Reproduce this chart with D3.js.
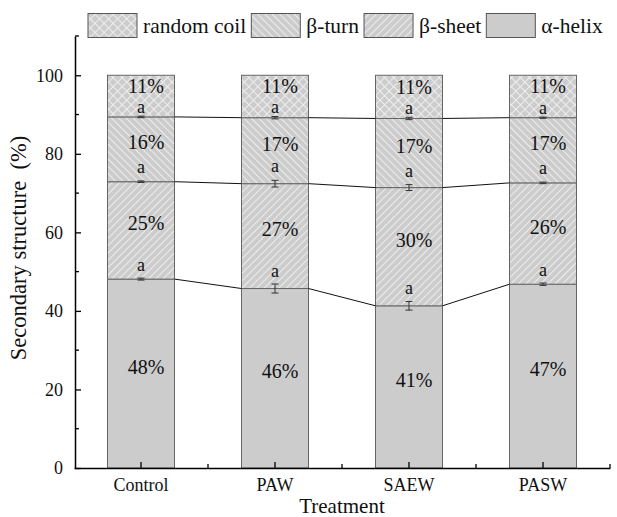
<!DOCTYPE html>
<html>
<head>
<meta charset="utf-8">
<script src="https://cdn.jsdelivr.net/npm/d3@7"></script>
<style>
  html, body { margin: 0; padding: 0; background: #fff; }
  svg { display: block; }
</style>
</head>
<body>
<svg id="chart" width="617" height="517"></svg>
<script>
// ---- data ----
const categories = ["Control", "PAW", "SAEW", "PASW"];
const seriesNames = ["random coil", "β-turn", "β-sheet", "α-helix"];
const alphaHelix = [48.1, 45.7, 41.3, 46.8];
const betaSheet  = [24.8, 26.7, 30.1, 25.8];
const betaTurn   = [16.5, 16.8, 17.6, 16.6];
const randomCoil = [10.6, 10.8, 11.0, 10.8];
const alphaErr = [0.25, 1.15, 1.1, 0.3];
const sheetErr = [0.2, 0.85, 0.75, 0.2];
const turnErr  = [0.2, 0.3, 0.3, 0.15];
const alphaLabels = ["48%", "46%", "41%", "47%"];
const sheetLabels = ["25%", "27%", "30%", "26%"];
const turnLabels  = ["16%", "17%", "17%", "17%"];
const coilLabels  = ["11%", "11%", "11%", "11%"];
const alphaSig = ["a", "a", "a", "a"];
const sheetSig = ["a", "a", "a", "a"];
const turnSig  = ["a", "a", "a", "a"];
const yMajorTicks = [0, 20, 40, 60, 80, 100];
const yMinorTicks = [10, 30, 50, 70, 90, 110];

const FONT = "'Liberation Serif', 'Times New Roman', serif";
const INK = "#111";

// ---- layout ----
const svg = d3.select("#chart");
const x = d3.scaleBand().domain(categories).range([74, 610]).paddingInner(0.5).paddingOuter(0.25);
const y = d3.scaleLinear().domain([0, 110]).range([468, 36]);

function txt(sel, size) {
  return sel.style("font-family", FONT).style("font-size", size + "px").style("fill", INK);
}

// ---- patterns ----
const defs = svg.append("defs");
const GRAY = "#cccccc";
function hatch(id, angle, size, cross) {
  const p = defs.append("pattern").attr("id", id).attr("patternUnits", "userSpaceOnUse")
    .attr("width", size).attr("height", size).attr("patternTransform", `rotate(${angle})`);
  p.append("rect").attr("width", size).attr("height", size).attr("fill", GRAY);
  p.append("line").attr("x1", 0.5).attr("y1", 0).attr("x2", 0.5).attr("y2", size)
    .attr("stroke", "#f2f2f2").attr("stroke-width", 0.9);
  if (cross) p.append("line").attr("x1", 0).attr("y1", 0.5).attr("x2", size).attr("y2", 0.5)
    .attr("stroke", "#f2f2f2").attr("stroke-width", 0.9);
}
hatch("pCoil", 45, 6.4, true);
hatch("pTurn", -45, 5.2, false);
hatch("pSheet", 45, 5.2, false);
const fills = ["url(#pCoil)", "url(#pTurn)", "url(#pSheet)", GRAY];

// ---- stacks ----
const layers = [
  { vals: alphaHelix, fill: GRAY, labels: alphaLabels, err: alphaErr, sig: alphaSig, dy: 0, sdy: -7.5 },
  { vals: betaSheet, fill: "url(#pSheet)", labels: sheetLabels, err: sheetErr, sig: sheetSig, dy: 0, sdy: -8 },
  { vals: betaTurn, fill: "url(#pTurn)", labels: turnLabels, err: turnErr, sig: turnSig, dy: 0, sdy: -3.5 },
  { vals: randomCoil, fill: "url(#pCoil)", labels: coilLabels, err: null, sig: null, dy: -3, sdy: 0 }
];
const cum = categories.map(() => 0);
layers.forEach(L => {
  L.y0 = cum.slice();
  L.y1 = L.vals.map((v, i) => (cum[i] += v));
});

const bw = x.bandwidth();
const gBars = svg.append("g");
layers.forEach(L => {
  gBars.selectAll(null).data(categories).enter().append("rect")
    .attr("x", c => x(c)).attr("width", bw)
    .attr("y", (c, i) => y(L.y1[i])).attr("height", (c, i) => y(L.y0[i]) - y(L.y1[i]))
    .attr("fill", L.fill).attr("stroke", "#666").attr("stroke-width", 1);
});

// connecting lines
layers.slice(0, 3).forEach(L => {
  for (let i = 0; i < categories.length - 1; i++) {
    svg.append("line")
      .attr("x1", x(categories[i]) + bw).attr("y1", y(L.y1[i]))
      .attr("x2", x(categories[i + 1])).attr("y2", y(L.y1[i + 1]))
      .attr("stroke", "#111").attr("stroke-width", 1);
  }
});

// error bars + significance letters
layers.forEach(L => {
  if (!L.err) return;
  categories.forEach((c, i) => {
    const cx = x(c) + bw / 2, top = L.y1[i], e = L.err[i];
    const g = svg.append("g").attr("stroke", "#333").attr("stroke-width", 1);
    g.append("line").attr("x1", cx).attr("x2", cx).attr("y1", y(top - e)).attr("y2", y(top + e));
    g.append("line").attr("x1", cx - 3.5).attr("x2", cx + 3.5).attr("y1", y(top - e)).attr("y2", y(top - e));
    g.append("line").attr("x1", cx - 3.5).attr("x2", cx + 3.5).attr("y1", y(top + e)).attr("y2", y(top + e));
    txt(svg.append("text").attr("x", cx).attr("y", y(top + e) + L.sdy)
      .attr("text-anchor", "middle"), 18).text(L.sig[i]);
  });
});

// percentage labels
layers.forEach(L => {
  categories.forEach((c, i) => {
    txt(svg.append("text").attr("x", x(c) + bw / 2 + 5).attr("y", y((L.y0[i] + L.y1[i]) / 2) + L.dy)
      .attr("text-anchor", "middle"), 20).text(L.labels[i]);
  });
});

// ---- axes ----
const xAxis = svg.append("g").attr("transform", "translate(0,468)")
  .call(d3.axisBottom(x).tickSizeInner(-6).tickSizeOuter(0).tickPadding(10));
txt(xAxis.selectAll(".tick text"), 18);
xAxis.select(".domain").attr("stroke-width", 1.5);
xAxis.selectAll(".tick line").attr("stroke-width", 1.3);
svg.append("g").selectAll("line").data(categories).enter().append("line")
  .attr("x1", c => x(c) + bw / 2 + x.step() / 2).attr("x2", c => x(c) + bw / 2 + x.step() / 2)
  .attr("y1", 468).attr("y2", 464).attr("stroke", "#000").attr("stroke-width", 1.3);

const yAxis = svg.append("g").attr("transform", "translate(75,0)")
  .call(d3.axisLeft(y).tickValues(yMajorTicks).tickSizeInner(-6).tickSizeOuter(0).tickPadding(12));
txt(yAxis.selectAll(".tick text"), 18);
yAxis.select(".domain").attr("stroke-width", 1.5);
yAxis.selectAll(".tick line").attr("stroke-width", 1.3);
svg.append("g").selectAll("line").data(yMinorTicks).enter().append("line")
  .attr("x1", 75).attr("x2", 79).attr("y1", d => y(d)).attr("y2", d => y(d))
  .attr("stroke", "#000").attr("stroke-width", 1.3);

// axis titles
txt(svg.append("text").attr("x", 342).attr("y", 513).attr("text-anchor", "middle"), 21).text("Treatment");
txt(svg.append("text").attr("transform", "translate(26,248) rotate(-90)").attr("text-anchor", "middle"), 22.5)
  .text("Secondary structure\u2002(%)");

// ---- legend ----
let lx = 88;
seriesNames.forEach((n, i) => {
  svg.append("rect").attr("x", lx).attr("y", 13.5).attr("width", 49).attr("height", 24)
    .attr("fill", fills[i]).attr("stroke", "#555").attr("stroke-width", 1);
  const t = txt(svg.append("text").attr("x", lx + 55).attr("y", 33), 21.5).text(n);
  lx += 55 + t.node().getComputedTextLength() + 5;
});
</script>
</body>
</html>
